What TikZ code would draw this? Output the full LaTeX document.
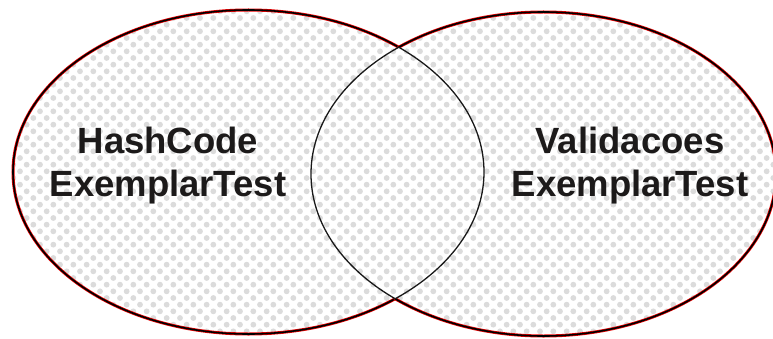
\documentclass[tikz,border=0pt]{standalone}
\usepackage{fontspec}
\setmainfont{Liberation Sans}
\definecolor{dotgray}{HTML}{DBDBDB}
\definecolor{rimred}{HTML}{E80000}
\definecolor{ink}{HTML}{1C1A1A}
\tikzset{
  x=1pt, y=1pt,
  label text/.style={font=\fontsize{36.5}{43}\selectfont\bfseries, text=ink, align=center, inner sep=0pt},
  rim halo/.style={draw=rimred, line width=3pt},
  rim core/.style={draw=black, line width=1.6pt},
  inner arc/.style={draw=black!90, line width=1.3pt},
}
\begin{document}
\begin{tikzpicture}
  \useasboundingbox[fill=white] (0,0) rectangle (773,338);
  % the two sets
  \def\leftset{(248.5,166) ellipse [x radius=235.5, y radius=162]}
  \def\rightset{(543.5,164) ellipse [x radius=232.5, y radius=162]}
  \coordinate (L) at (248.5,166);
  \coordinate (R) at (543.5,164);
  % dotted fill of the union
  \begin{scope}
    \clip \leftset \rightset;
    \foreach \j in {0,...,52}{
      \pgfmathsetmacro{\off}{mod(\j,2)*6.667}
      \foreach \i in {0,...,59}{
        \fill[dotgray] (\i*13.333+\off, \j*6.667) circle [radius=2.9];
      }
    }
  \end{scope}
  % outer rim of each set, only where it is not inside the other
  \begin{scope}[even odd rule]
    \clip (-10,-10) rectangle (790,350) \rightset;
    \draw[rim halo] \leftset;
    \draw[rim core] \leftset;
  \end{scope}
  \begin{scope}[even odd rule]
    \clip (-10,-10) rectangle (790,350) \leftset;
    \draw[rim halo] \rightset;
    \draw[rim core] \rightset;
  \end{scope}
  % inner arcs
  \begin{scope}
    \clip \rightset;
    \draw[inner arc] \leftset;
  \end{scope}
  \begin{scope}
    \clip \leftset;
    \draw[inner arc] \rightset;
  \end{scope}
  % labels
  \node[label text] (hash) at (168,172.5) {HashCode\\ExemplarTest};
  \node[label text] (valid) at (630,172.5) {Validacoes\\ExemplarTest};
\end{tikzpicture}
\end{document}
